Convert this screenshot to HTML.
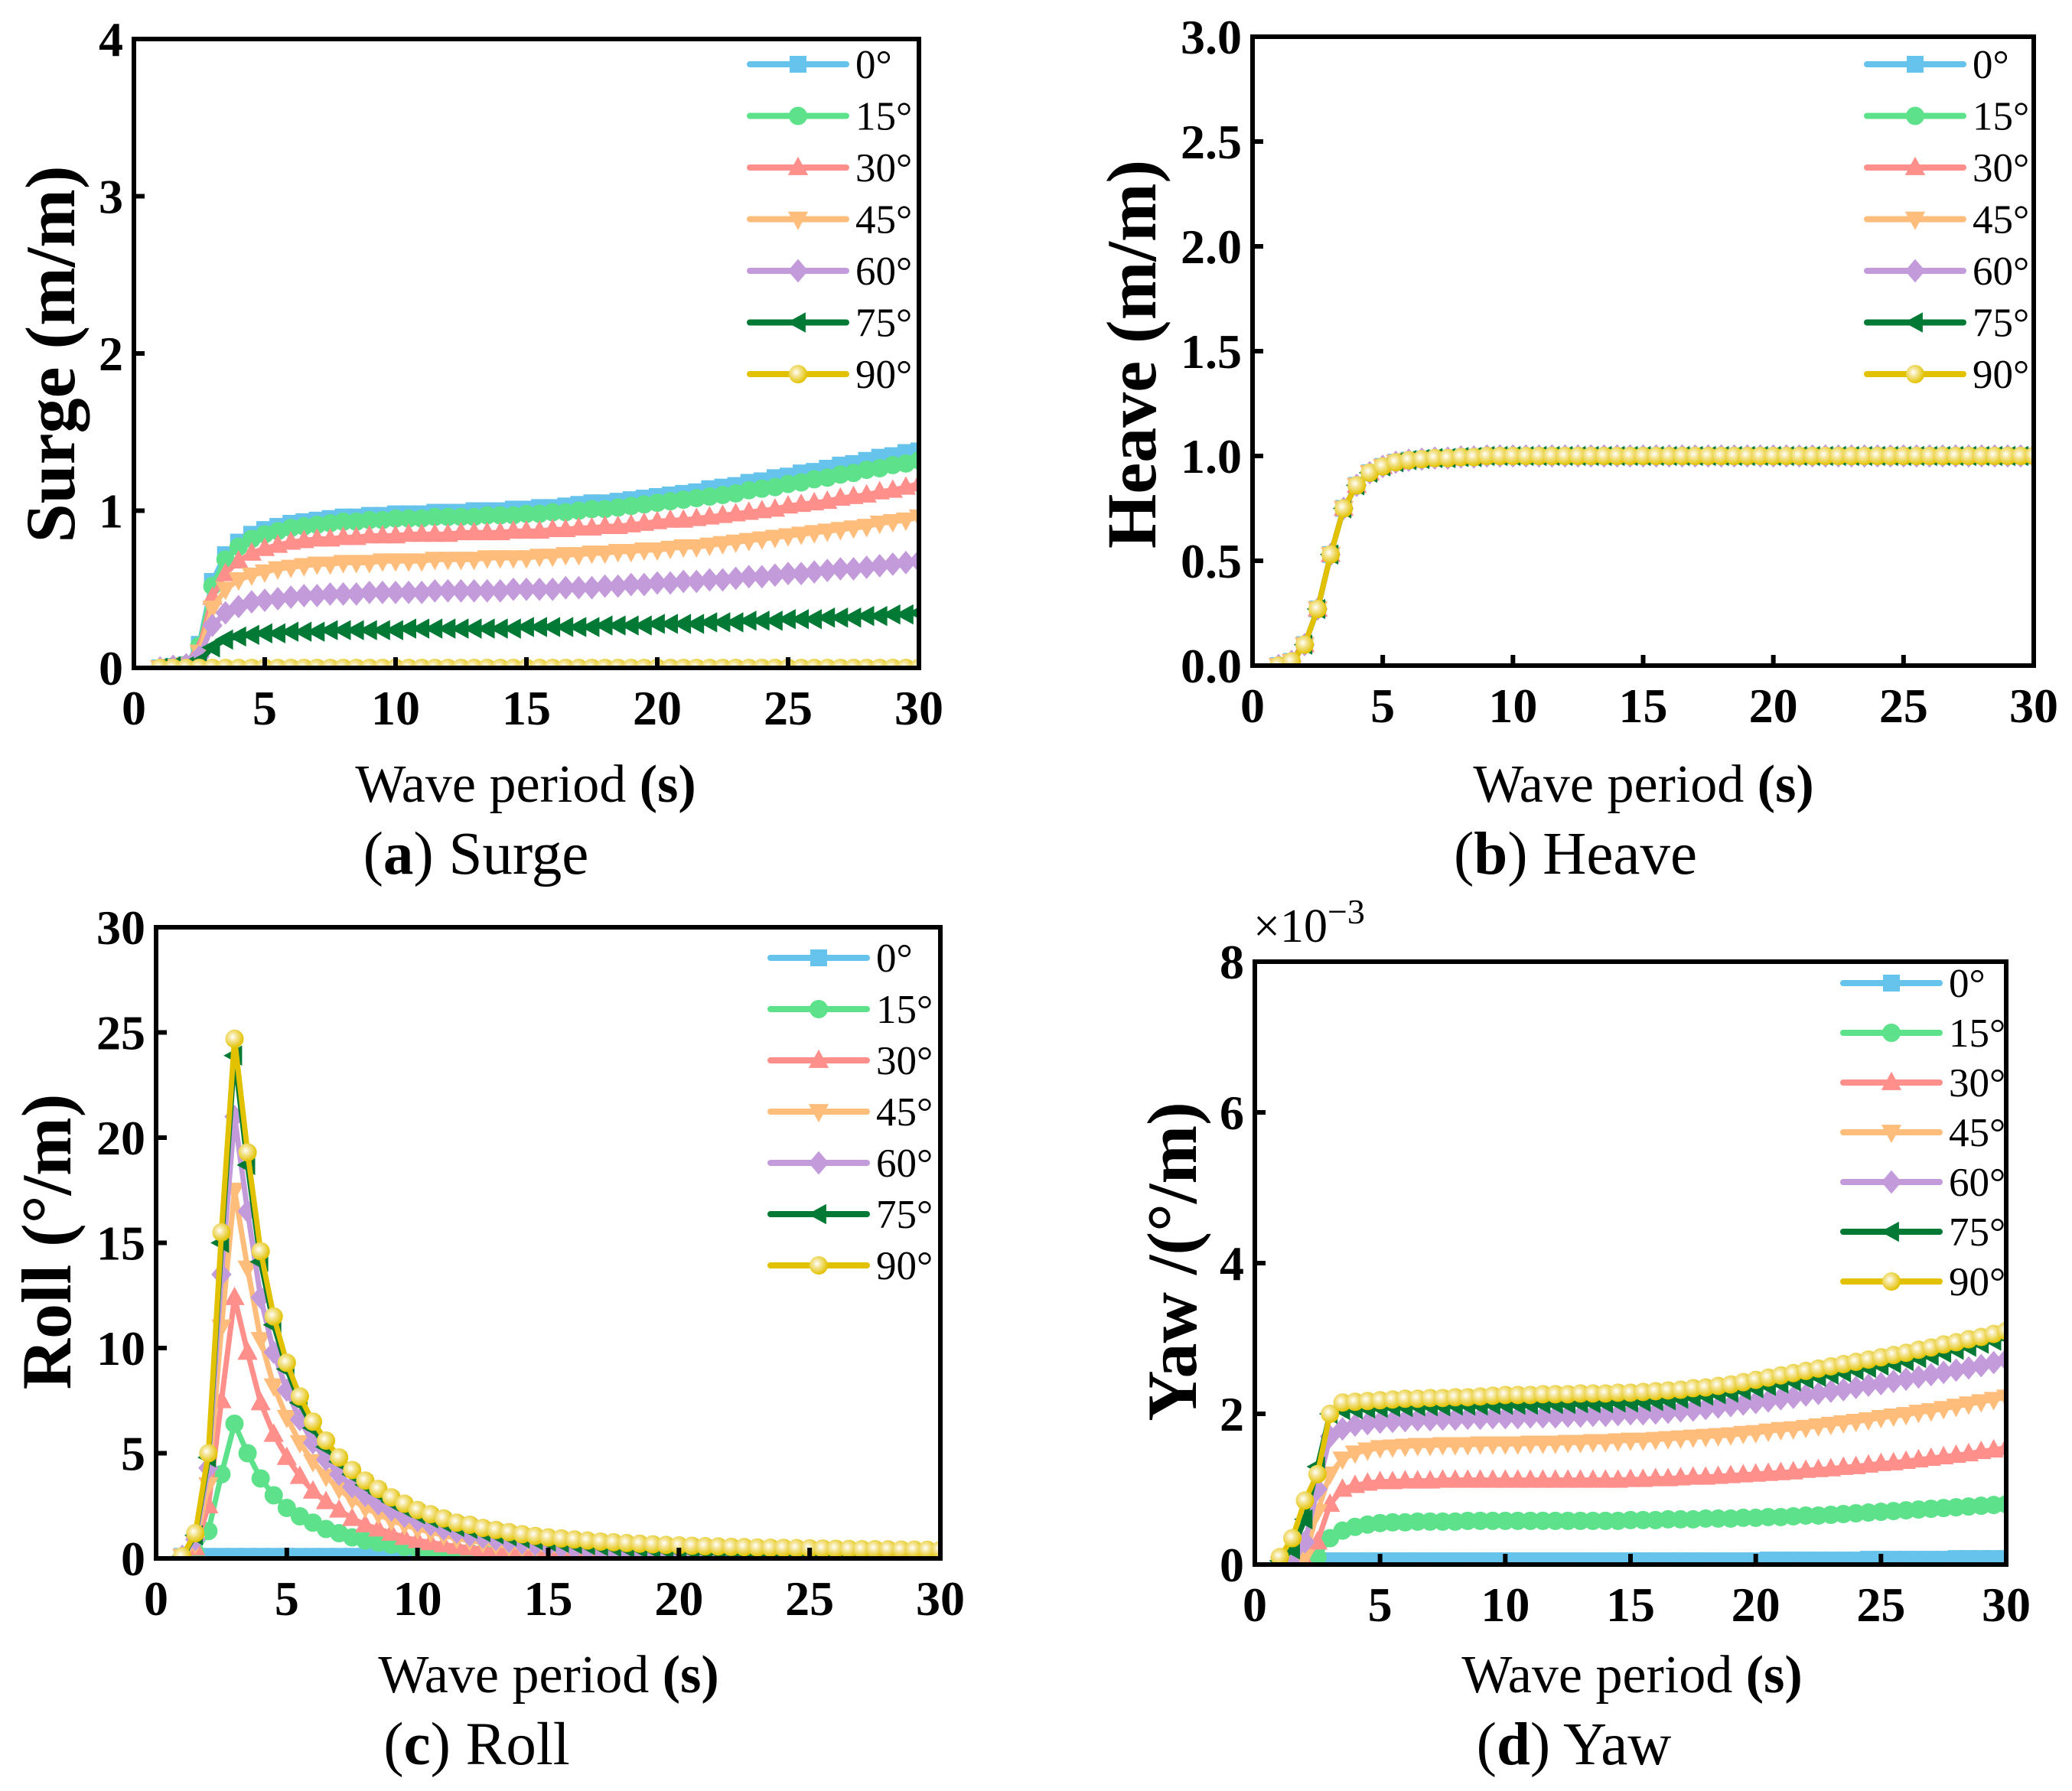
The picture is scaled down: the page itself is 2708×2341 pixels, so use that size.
<!DOCTYPE html>
<html><head><meta charset="utf-8"><style>
html,body{margin:0;padding:0;background:#fff}
svg{display:block}
text{font-family:"Liberation Serif",serif}
</style></head><body>
<svg id="fig" width="2708" height="2341" viewBox="0 0 2708 2341" xmlns="http://www.w3.org/2000/svg">
<defs>
<radialGradient id="yg" cx="0.4" cy="0.4" r="0.6"><stop offset="0" stop-color="#ffffff"/><stop offset="0.35" stop-color="#f5e69a"/><stop offset="1" stop-color="#e2c200"/></radialGradient>
</defs>
</svg>
<script>
const periods=[1,1.5,2,2.5,3,3.5,4,4.5,5,5.5,6,6.5,7,7.5,8,8.5,9,9.5,10,10.5,11,11.5,12,12.5,13,13.5,14,14.5,15,15.5,16,16.5,17,17.5,18,18.5,19,19.5,20,20.5,21,21.5,22,22.5,23,23.5,24,24.5,25,25.5,26,26.5,27,27.5,28,28.5,29,29.5,30];
const seriesNames=["0°","15°","30°","45°","60°","75°","90°"];
const xTicks=[0,5,10,15,20,25,30];
const surgeTicks=[0,1,2,3,4];
const heaveTicks=[0,0.5,1,1.5,2,2.5,3];
const heaveTickLabels=["0.0","0.5","1.0","1.5","2.0","2.5","3.0"];
const rollTicks=[0,5,10,15,20,25,30];
const yawTicks=[0,2,4,6,8];

const surge0=[0,0.01,0.02,0.15,0.55,0.72,0.8,0.85,0.88,0.9,0.92,0.93,0.94,0.95,0.96,0.96,0.97,0.97,0.98,0.98,0.98,0.99,0.99,0.99,1.0,1.0,1.0,1.01,1.01,1.02,1.02,1.03,1.04,1.05,1.05,1.06,1.07,1.08,1.09,1.1,1.11,1.12,1.14,1.15,1.16,1.18,1.19,1.21,1.22,1.24,1.25,1.27,1.29,1.3,1.32,1.34,1.35,1.37,1.38];
const surge15=[0,0.01,0.02,0.14,0.52,0.69,0.77,0.82,0.85,0.87,0.89,0.9,0.91,0.92,0.93,0.93,0.94,0.94,0.95,0.95,0.95,0.96,0.96,0.96,0.96,0.97,0.97,0.97,0.98,0.98,0.99,0.99,1.0,1.01,1.01,1.02,1.03,1.04,1.05,1.06,1.07,1.08,1.09,1.1,1.11,1.13,1.14,1.15,1.17,1.18,1.2,1.21,1.23,1.24,1.26,1.27,1.29,1.3,1.32];
const surge30=[0,0.01,0.02,0.12,0.45,0.6,0.68,0.73,0.76,0.78,0.8,0.81,0.82,0.82,0.83,0.83,0.84,0.84,0.84,0.85,0.85,0.85,0.85,0.86,0.86,0.86,0.86,0.87,0.87,0.87,0.88,0.88,0.89,0.89,0.9,0.9,0.91,0.92,0.93,0.94,0.94,0.95,0.96,0.97,0.98,0.99,1.0,1.01,1.03,1.04,1.05,1.06,1.08,1.09,1.1,1.12,1.13,1.15,1.17];
const surge45=[0,0.01,0.02,0.1,0.38,0.5,0.56,0.59,0.61,0.63,0.64,0.65,0.66,0.66,0.67,0.67,0.67,0.68,0.68,0.68,0.68,0.69,0.69,0.69,0.69,0.7,0.7,0.7,0.7,0.71,0.71,0.72,0.72,0.73,0.73,0.74,0.74,0.75,0.75,0.76,0.77,0.77,0.78,0.79,0.8,0.81,0.82,0.83,0.84,0.85,0.86,0.87,0.88,0.89,0.9,0.92,0.93,0.94,0.96];
const surge60=[0,0.01,0.02,0.07,0.27,0.35,0.39,0.42,0.43,0.44,0.45,0.46,0.46,0.47,0.47,0.47,0.48,0.48,0.48,0.48,0.48,0.49,0.49,0.49,0.49,0.49,0.49,0.5,0.5,0.5,0.5,0.51,0.51,0.51,0.52,0.52,0.53,0.53,0.54,0.54,0.55,0.55,0.56,0.56,0.57,0.58,0.58,0.59,0.6,0.6,0.61,0.62,0.63,0.63,0.64,0.65,0.66,0.67,0.68];
const surge75=[0,0.01,0.01,0.04,0.13,0.18,0.2,0.21,0.22,0.22,0.23,0.23,0.23,0.24,0.24,0.24,0.24,0.24,0.24,0.25,0.25,0.25,0.25,0.25,0.25,0.25,0.25,0.25,0.26,0.26,0.26,0.26,0.26,0.26,0.27,0.27,0.27,0.27,0.28,0.28,0.28,0.28,0.29,0.29,0.29,0.3,0.3,0.3,0.31,0.31,0.31,0.32,0.32,0.32,0.33,0.33,0.34,0.34,0.35];
const surge90=[0,0,0,0,0,0,0,0,0,0,0,0,0,0,0,0,0,0,0,0,0,0,0,0,0,0,0,0,0,0,0,0,0,0,0,0,0,0,0,0,0,0,0,0,0,0,0,0,0,0,0,0,0,0,0,0,0,0,0];

const heaveVals=[0,0.02,0.1,0.27,0.53,0.75,0.86,0.92,0.95,0.97,0.98,0.985,0.99,0.99,0.995,0.995,1,1,1,1,1,1,1,1,1,1,1,1,1,1,1,1,1,1,1,1,1,1,1,1,1,1,1,1,1,1,1,1,1,1,1,1,1,1,1,1,1,1,1];

const roll0=[0.1,0.1,0.1,0.1,0.1,0.1,0.1,0.1,0.1,0.1,0.1,0.1,0.1,0.1,0.1,0.1,0.1,0.1,0.1,0.1,0.1,0.1,0.1,0.1,0.1,0.1,0.1,0.1,0.1,0.1,0.1,0.1,0.1,0.1,0.1,0.1,0.1,0.1,0.1,0.1,0.1,0.1,0.1,0.1,0.1,0.1,0.1,0.1,0.1,0.1,0.1,0.1,0.1,0.1,0.1,0.1,0.1,0.1,0.1];
const roll15=[0.05,0.3,1.3,4.0,6.4,5.0,3.8,3.0,2.4,2.0,1.7,1.4,1.2,1.0,0.85,0.75,0.65,0.55,0.48,0.42,0.37,0.32,0.28,0.25,0.22,0.19,0.17,0.15,0.13,0.12,0.11,0.1,0.09,0.08,0.07,0.07,0.06,0.06,0.05,0.05,0.05,0.05,0.04,0.04,0.04,0.04,0.04,0.03,0.03,0.03,0.03,0.03,0.03,0.02,0.02,0.02,0.02,0.02,0.02];
const roll30=[0.1,0.5,2.5,7.5,12.4,9.8,7.4,5.9,4.8,3.9,3.2,2.7,2.3,1.9,1.6,1.4,1.2,1.0,0.85,0.75,0.65,0.57,0.5,0.44,0.38,0.34,0.3,0.26,0.23,0.2,0.18,0.16,0.14,0.13,0.12,0.11,0.1,0.09,0.08,0.07,0.07,0.06,0.06,0.06,0.05,0.05,0.05,0.05,0.04,0.04,0.04,0.04,0.04,0.03,0.03,0.03,0.03,0.03,0.03];
const roll45=[0.1,0.7,3.5,11.0,17.5,13.8,10.4,8.2,6.7,5.5,4.6,3.9,3.3,2.8,2.4,2.1,1.8,1.6,1.4,1.25,1.1,0.95,0.85,0.75,0.66,0.58,0.52,0.46,0.41,0.37,0.33,0.3,0.27,0.24,0.22,0.2,0.18,0.16,0.15,0.14,0.13,0.12,0.11,0.1,0.09,0.09,0.08,0.08,0.07,0.07,0.06,0.06,0.06,0.05,0.05,0.05,0.05,0.04,0.04];
const roll60=[0.1,0.9,4.3,13.5,21.0,16.5,12.4,9.8,8.0,6.6,5.5,4.7,4.0,3.4,3.0,2.6,2.3,2.0,1.8,1.6,1.4,1.25,1.1,1.0,0.9,0.8,0.72,0.65,0.58,0.52,0.47,0.43,0.39,0.35,0.32,0.3,0.27,0.25,0.23,0.21,0.2,0.18,0.17,0.16,0.15,0.14,0.13,0.12,0.12,0.11,0.1,0.1,0.09,0.09,0.08,0.08,0.08,0.07,0.07];
const roll75=[0.1,1.1,4.8,15.0,23.9,18.7,14.1,11.1,9.0,7.4,6.2,5.3,4.6,4.0,3.5,3.1,2.7,2.4,2.1,1.9,1.7,1.5,1.4,1.25,1.15,1.05,0.95,0.87,0.8,0.74,0.68,0.63,0.58,0.54,0.5,0.47,0.44,0.41,0.38,0.36,0.34,0.32,0.3,0.28,0.27,0.26,0.25,0.24,0.23,0.22,0.21,0.2,0.2,0.19,0.18,0.18,0.17,0.17,0.16];
const roll90=[0.1,1.2,5.0,15.5,24.7,19.3,14.6,11.5,9.3,7.7,6.5,5.6,4.8,4.2,3.7,3.3,2.9,2.6,2.3,2.1,1.9,1.7,1.6,1.45,1.35,1.25,1.15,1.07,1.0,0.95,0.9,0.85,0.8,0.77,0.73,0.7,0.67,0.64,0.62,0.6,0.58,0.57,0.55,0.54,0.52,0.51,0.5,0.49,0.48,0.47,0.46,0.45,0.44,0.44,0.43,0.42,0.42,0.41,0.4];

const yaw0=[0,0,0.02,0.05,0.05,0.05,0.05,0.05,0.05,0.05,0.05,0.05,0.05,0.05,0.05,0.05,0.05,0.05,0.05,0.05,0.05,0.05,0.05,0.05,0.05,0.05,0.05,0.05,0.05,0.05,0.05,0.05,0.05,0.05,0.05,0.05,0.05,0.05,0.05,0.06,0.06,0.06,0.06,0.06,0.06,0.06,0.06,0.07,0.07,0.07,0.07,0.07,0.07,0.07,0.08,0.08,0.08,0.08,0.08];
const yaw15=[0,0,0,0.1,0.35,0.45,0.5,0.53,0.55,0.56,0.56,0.57,0.57,0.57,0.57,0.58,0.58,0.58,0.58,0.58,0.58,0.58,0.58,0.58,0.58,0.58,0.58,0.58,0.59,0.59,0.59,0.6,0.6,0.6,0.61,0.61,0.61,0.62,0.62,0.63,0.63,0.64,0.65,0.65,0.66,0.67,0.68,0.69,0.7,0.71,0.72,0.73,0.74,0.75,0.76,0.77,0.78,0.79,0.8];
const yaw30=[0,0,0.05,0.3,0.8,1.0,1.05,1.08,1.1,1.1,1.11,1.11,1.11,1.12,1.12,1.12,1.12,1.12,1.12,1.12,1.12,1.12,1.12,1.12,1.12,1.12,1.12,1.12,1.13,1.13,1.14,1.14,1.15,1.16,1.16,1.17,1.18,1.19,1.2,1.21,1.22,1.23,1.25,1.26,1.27,1.29,1.3,1.32,1.34,1.35,1.37,1.39,1.41,1.43,1.45,1.47,1.5,1.52,1.55];
const yaw45=[0,0,0.1,0.7,1.2,1.4,1.48,1.52,1.55,1.56,1.57,1.58,1.58,1.59,1.59,1.59,1.6,1.6,1.6,1.6,1.61,1.61,1.61,1.62,1.62,1.63,1.63,1.64,1.65,1.65,1.66,1.67,1.68,1.69,1.7,1.71,1.72,1.74,1.75,1.77,1.79,1.8,1.82,1.84,1.86,1.88,1.9,1.92,1.95,1.97,1.99,2.02,2.04,2.07,2.1,2.13,2.16,2.19,2.22];
const yaw60=[0,0,0.3,1.0,1.7,1.8,1.85,1.87,1.89,1.9,1.91,1.92,1.92,1.93,1.93,1.94,1.94,1.95,1.95,1.95,1.96,1.96,1.96,1.97,1.97,1.98,1.98,1.99,2.0,2.0,2.01,2.02,2.04,2.05,2.07,2.09,2.11,2.13,2.15,2.17,2.2,2.22,2.25,2.27,2.3,2.32,2.35,2.38,2.4,2.43,2.46,2.49,2.52,2.55,2.58,2.61,2.64,2.68,2.72];
const yaw75=[0.05,0.2,0.6,1.3,2.0,2.05,2.06,2.07,2.08,2.09,2.09,2.1,2.1,2.1,2.11,2.11,2.11,2.12,2.12,2.12,2.12,2.13,2.13,2.13,2.14,2.14,2.14,2.15,2.15,2.16,2.17,2.18,2.2,2.22,2.24,2.26,2.28,2.31,2.34,2.37,2.4,2.43,2.46,2.49,2.52,2.55,2.58,2.61,2.64,2.67,2.7,2.74,2.77,2.81,2.85,2.89,2.93,2.97,3.02];
const yaw90=[0.1,0.35,0.85,1.2,2.0,2.15,2.16,2.17,2.18,2.19,2.2,2.2,2.21,2.21,2.22,2.22,2.23,2.24,2.25,2.25,2.25,2.26,2.26,2.26,2.27,2.27,2.27,2.28,2.28,2.29,2.3,2.31,2.32,2.34,2.35,2.37,2.39,2.42,2.45,2.48,2.51,2.54,2.57,2.6,2.63,2.66,2.69,2.72,2.75,2.78,2.81,2.85,2.88,2.92,2.95,2.99,3.02,3.06,3.1];

const colors=["#66c3ec","#5de28b","#ff8f8a","#ffbd7c","#c39bdb","#027a35","#e2c200"];
const markers=["square","circle","tri-up","tri-down","diamond","tri-left","ball"];
const NS="http://www.w3.org/2000/svg";
const svg=document.getElementById('fig');
function mk(tag,attrs,parent){const e=document.createElementNS(NS,tag);for(const k in attrs)e.setAttribute(k,attrs[k]);(parent||svg).appendChild(e);return e;}
function marker(g,type,x,y,c,s){
  let e;
  if(type==="square")e=mk('rect',{x:x-s/2,y:y-s/2,width:s,height:s,fill:c},g);
  else if(type==="circle")e=mk('circle',{cx:x,cy:y,r:s/2+1,fill:c},g);
  else if(type==="ball")e=mk('circle',{cx:x,cy:y,r:s/2+1,fill:"url(#yg)"},g);
  else if(type==="tri-up")e=mk('polygon',{points:`${x},${y-s*0.65} ${x+s*0.6},${y+s*0.45} ${x-s*0.6},${y+s*0.45}`,fill:c},g);
  else if(type==="tri-down")e=mk('polygon',{points:`${x},${y+s*0.65} ${x+s*0.6},${y-s*0.45} ${x-s*0.6},${y-s*0.45}`,fill:c},g);
  else if(type==="tri-left")e=mk('polygon',{points:`${x-s*0.65},${y} ${x+s*0.45},${y-s*0.6} ${x+s*0.45},${y+s*0.6}`,fill:c},g);
  else e=mk('polygon',{points:`${x},${y-s*0.7} ${x+s*0.6},${y} ${x},${y+s*0.7} ${x-s*0.6},${y}`,fill:c},g);
  
  
}
function panel(p){
  const g=mk('g',{});
  
  
  const xs=v=>p.L+(v-0)/(30-0)*(p.R-p.L);
  const ys=v=>p.B-(v-p.ymin)/(p.ymax-p.ymin)*(p.B-p.T);
  const clip=mk('clipPath',{id:'clip-'+p.id},g);
  mk('rect',{x:p.L,y:p.T,width:p.R-p.L,height:p.B-p.T},clip);
  const plot=mk('g',{'clip-path':'url(#clip-'+p.id+')'},g);
  p.series.forEach((vals,si)=>{
    const sg=mk('g',{},plot);
    
    
    const pts=vals.map((v,i)=>xs(periods[i])+','+ys(v)).join(' ');
    const pl=mk('polyline',{points:pts,fill:'none',stroke:colors[si],'stroke-width':7,'stroke-linejoin':'round'},sg);
    
    
    vals.forEach((v,i)=>marker(sg,markers[si],xs(periods[i]),ys(v),colors[si],22));
  });
  const fr=mk('rect',{x:p.L,y:p.T,width:p.R-p.L,height:p.B-p.T,fill:'none',stroke:'#000','stroke-width':6},g);
  
  
  xTicks.forEach(t=>{
    const x=xs(t);
    mk('line',{x1:x,y1:p.B,x2:x,y2:p.B-14,stroke:'#000','stroke-width':6},g);
    const tx=mk('text',{x:x,y:p.B+74,'font-size':64,'font-weight':'bold','text-anchor':'middle'},g);
    tx.textContent=t;
    
    
  });
  p.yticks.forEach((t,i)=>{
    const y=ys(t);
    mk('line',{x1:p.L,y1:y,x2:p.L+14,y2:y,stroke:'#000','stroke-width':6},g);
    const tx=mk('text',{x:p.L-14,y:y+22,'font-size':64,'font-weight':'bold','text-anchor':'end'},g);
    tx.textContent=p.ylabels?p.ylabels[i]:t;
    
    
  });
  const yt=mk('text',{x:0,y:0,'font-size':92,'font-weight':'bold','text-anchor':'middle',transform:`translate(${p.ytx},${p.yty}) rotate(-90)`},g);
  yt.textContent=p.ytitle;
  
  
  const xt=mk('text',{x:p.xtx,y:p.xty,'font-size':70,'text-anchor':'middle'},g);
  xt.innerHTML='Wave period <tspan font-weight="bold">(s)</tspan>';
  
  
  const cap=mk('text',{x:p.capx,y:p.capy,'font-size':79,'text-anchor':'middle'},g);
  cap.innerHTML='(<tspan font-weight="bold">'+p.caplet+'</tspan>) '+p.capname;
  
  
  const lg=mk('g',{},g);
  
  
  seriesNames.forEach((n,i)=>{
    const y=p.legY+i*p.legDy;
    const e=mk('g',{},lg);
    
    
    mk('line',{x1:p.legX,y1:y,x2:p.legX+126,y2:y,stroke:colors[i],'stroke-width':8,'stroke-linecap':'round'},e);
    marker(e,markers[i],p.legX+63,y,colors[i],22);
    const t=mk('text',{x:p.legX+138,y:y+18,'font-size':53},e);
    t.textContent=n;
  });
  if(p.exp){
    const ex=mk('text',{x:p.L-2,y:p.T-26,'font-size':62},g);
    ex.innerHTML='×10<tspan dy="-24" font-size="46">−3</tspan>';
    
    
  }
}
panel({id:'surge',L:175,R:1201,T:51,B:873,ymin:0,ymax:4,yticks:surgeTicks,ytitle:'Surge (m/m)',ytx:97,yty:463,xtx:687,xty:1048,capx:622,capy:1142,caplet:'a',capname:'Surge',legX:980,legY:84,legDy:67.5,
  series:[surge0,surge15,surge30,surge45,surge60,surge75,surge90]});
panel({id:'heave',L:1637,R:2658,T:48,B:870,ymin:0,ymax:3,yticks:heaveTicks,ylabels:heaveTickLabels,ytitle:'Heave (m/m)',ytx:1510,yty:463,xtx:2148,xty:1048,capx:2059,capy:1142,caplet:'b',capname:'Heave',legX:2440,legY:84,legDy:67.5,
  series:[heaveVals,heaveVals,heaveVals,heaveVals,heaveVals,heaveVals,heaveVals]});
panel({id:'roll',L:204,R:1229,T:1212,B:2037,ymin:0,ymax:30,yticks:rollTicks,ytitle:'Roll (°/m)',ytx:92,yty:1623,xtx:717,xty:2212,capx:623,capy:2306,caplet:'c',capname:'Roll',legX:1007,legY:1252,legDy:67,
  series:[roll0,roll15,roll30,roll45,roll60,roll75,roll90]});
panel({id:'yaw',L:1640,R:2622,T:1257,B:2045,ymin:0,ymax:8,yticks:yawTicks,ytitle:'Yaw /(°/m)',ytx:1563,yty:1649,xtx:2133,xty:2212,capx:2057,capy:2306,caplet:'d',capname:'Yaw',legX:2409,legY:1285,legDy:65,exp:true,
  series:[yaw0,yaw15,yaw30,yaw45,yaw60,yaw75,yaw90]});
</script>
</body></html>
